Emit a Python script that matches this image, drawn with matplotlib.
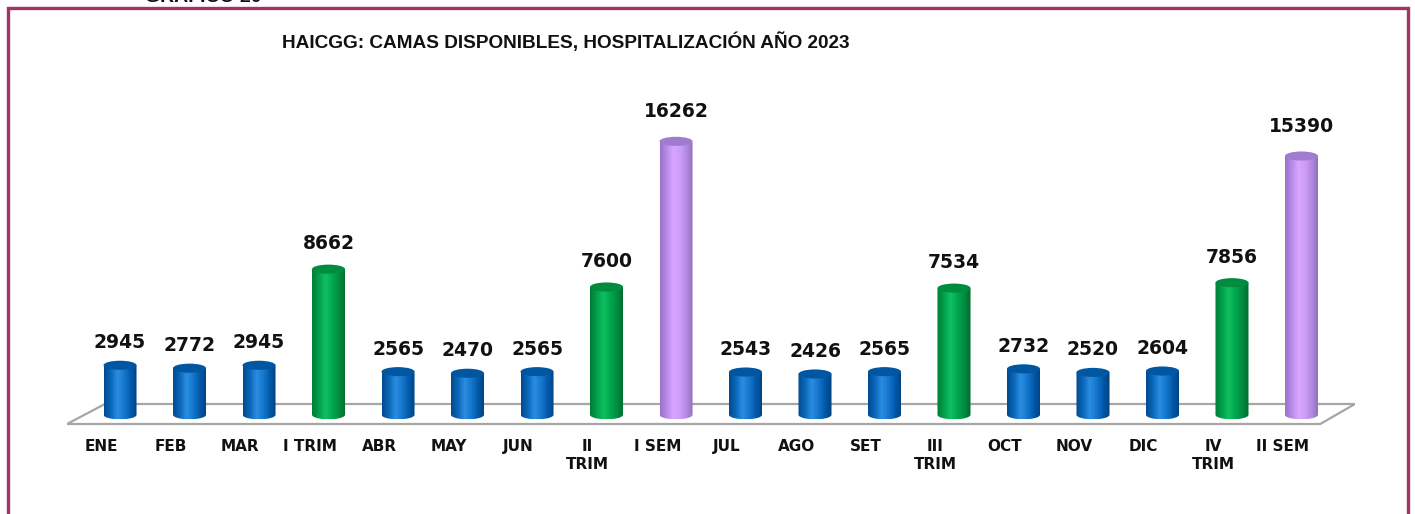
import numpy as np
import matplotlib
matplotlib.use("Agg")
import matplotlib.pyplot as plt
from matplotlib.patches import Ellipse, Polygon, Rectangle, PathPatch
from matplotlib.path import Path
from matplotlib.colors import LinearSegmentedColormap

categories = ["ENE", "FEB", "MAR", "I TRIM", "ABR", "MAY", "JUN", "II\nTRIM", "I SEM",
              "JUL", "AGO", "SET", "III\nTRIM", "OCT", "NOV", "DIC", "IV\nTRIM", "II SEM"]
values = [2945, 2772, 2945, 8662, 2565, 2470, 2565, 7600, 16262,
          2543, 2426, 2565, 7534, 2732, 2520, 2604, 7856, 15390]
kinds = ["m", "m", "m", "t", "m", "m", "m", "t", "s",
         "m", "m", "m", "t", "m", "m", "m", "t", "s"]
title = "HAICGG: CAMAS DISPONIBLES, HOSPITALIZACIÓN AÑO 2023"

W, H = 1415, 514
fig = plt.figure(figsize=(W / 100, H / 100), dpi=100)

# axes placement (pixel based)
ax_l, ax_r, ax_t, ax_b = 67, 1355, 60, 440
ax = fig.add_axes([ax_l / W, 1 - ax_b / H, (ax_r - ax_l) / W, (ax_b - ax_t) / H])
ax.set_xlim(-0.763, 17.77)
ax.set_ylim(-1500, 21100)
ax.axis("off")

styles = {
    "m": dict(cols=["#004a8f", "#0a66b8", "#2a8de0", "#1577cc", "#0058a8", "#004080"], top="#0056a0"),
    "t": dict(cols=["#007a35", "#00a04a", "#10c060", "#00a850", "#008c40", "#006a2e"], top="#008c3e"),
    "s": dict(cols=["#9a72c8", "#b98ae8", "#d8a8ff", "#cc9cf8", "#b088e0", "#9068b8"], top="#a07cd0"),
}

w = 0.475       # cylinder width (x units)
eh = 540        # ellipse height (y units)

# floor
n = len(categories)
floor = Polygon([(-0.763, -548), (n - 1 + 0.27, -548), (n - 1 + 0.77, 642), (-0.216, 642)],
                closed=True, facecolor="white", edgecolor="#a6a6a6", lw=1.6, zorder=1)
ax.add_patch(floor)

grad = np.linspace(0, 1, 256).reshape(1, -1)
for i, (v, k) in enumerate(zip(values, kinds)):
    st = styles[k]
    cmap = LinearSegmentedColormap.from_list("c%d" % i, st["cols"])
    x0, x1 = i - w / 2, i + w / 2
    t = np.linspace(np.pi, 2 * np.pi, 40)
    verts = [(x0, v), (x0, 0)]
    verts += [(i + w / 2 * np.cos(a), eh / 2 * np.sin(a)) for a in t]
    verts += [(x1, v), (x0, v)]
    codes = [Path.MOVETO] + [Path.LINETO] * (len(verts) - 2) + [Path.CLOSEPOLY]
    clip = PathPatch(Path(verts, codes), facecolor="none", edgecolor="none", transform=ax.transData)
    ax.add_patch(clip)
    im = ax.imshow(grad, cmap=cmap, aspect="auto", extent=[x0, x1, -eh / 2, v],
                   zorder=3, interpolation="bilinear")
    im.set_clip_path(clip)
    top = Ellipse((i, v), w, eh, facecolor=st["top"], edgecolor="none", zorder=4)
    ax.add_patch(top)
    ax.text(i, v + 1270 + v * 0.03, str(v), ha="center", va="center", fontsize=13.5,
            fontweight="bold", family="DejaVu Sans", color="#111111", zorder=5)
    ax.text(i - 0.27, -1450, categories[i], ha="center", va="top", fontsize=11,
            fontweight="bold", family="DejaVu Sans", color="#111111", linespacing=1.2,
            clip_on=False)

ax.set_xlim(-0.763, 17.77)
ax.set_ylim(-1500, 21100)

fig.text(566 / W, 1 - 42 / H, title, ha="center", va="center", fontsize=13.7,
         fontweight="bold", family="Liberation Sans", color="#111111")
fig.text(145 / W, 1 - 2 / H, "GRAFICO 20", ha="left", va="baseline", fontsize=14,
         fontweight="bold", family="Liberation Sans", color="#111111")

# frame
fig.patches.append(Rectangle((8 / W, -0.05), (1408 - 8) / W, 1 - 8 / H + 0.05,
                             transform=fig.transFigure, fill=False,
                             edgecolor="#a03463", lw=2.4, zorder=10))

fig.savefig("out.png", dpi=100)
